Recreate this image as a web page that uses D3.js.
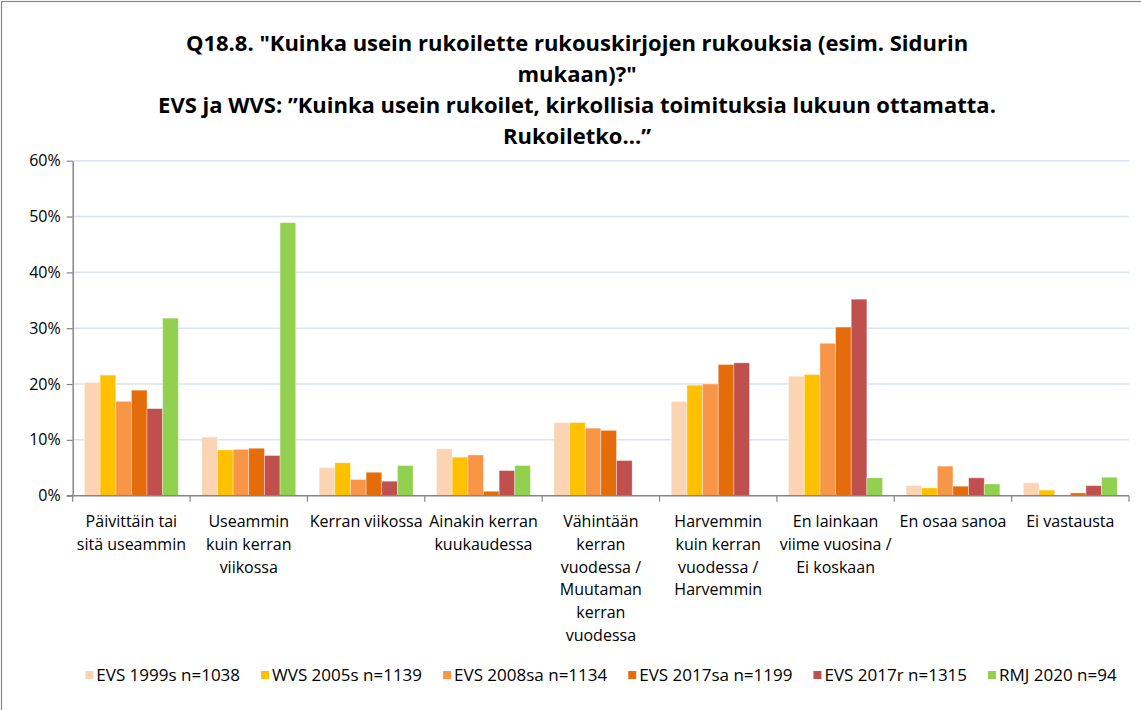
<!DOCTYPE html>
<html><head><meta charset="utf-8">
<script src="https://cdn.jsdelivr.net/npm/d3@7/dist/d3.min.js"></script>
<style>
body{margin:0;background:#fff;}
svg text{font-family:"Open Sans",sans-serif;fill:#000;}
</style></head>
<body><svg id="c" width="1141" height="710"></svg>
<script>
const titleLines = [
  'Q18.8. "Kuinka usein rukoilette rukouskirjojen rukouksia (esim. Sidurin',
  'mukaan)?"',
  'EVS ja WVS: \u201dKuinka usein rukoilet, kirkollisia toimituksia lukuun ottamatta.',
  'Rukoiletko...\u201d'
];
const categories = [
  "Päivittäin tai\nsitä useammin",
  "Useammin\nkuin kerran\nviikossa",
  "Kerran viikossa",
  "Ainakin kerran\nkuukaudessa",
  "Vähintään\nkerran\nvuodessa /\nMuutaman\nkerran\nvuodessa",
  "Harvemmin\nkuin kerran\nvuodessa /\nHarvemmin",
  "En lainkaan\nviime vuosina /\nEi koskaan",
  "En osaa sanoa",
  "Ei vastausta"
];
const seriesNames = ["EVS 1999s n=1038","WVS 2005s n=1139","EVS 2008sa n=1134","EVS 2017sa n=1199","EVS 2017r n=1315","RMJ 2020 n=94"];
const seriesColors = ["#FBD4B4","#FFC000","#F79646","#E46C0A","#C0504D","#92D050"];
const evs1999 = [20.3,10.5,5.0,8.4,13.1,16.9,21.4,1.8,2.3];
const wvs2005 = [21.6,8.2,5.9,6.9,13.1,19.8,21.7,1.4,1.0];
const evs2008 = [16.9,8.3,2.9,7.3,12.1,20.0,27.3,5.3,null];
const evs2017sa = [18.9,8.5,4.2,0.8,11.7,23.5,30.2,1.7,0.5];
const evs2017r = [15.6,7.2,2.6,4.5,6.3,23.8,35.2,3.2,1.8];
const rmj2020 = [31.8,48.9,5.4,5.4,null,null,3.2,2.1,3.3];
const yTicks = [0,10,20,30,40,50,60];

const seriesValues = [evs1999,wvs2005,evs2008,evs2017sa,evs2017r,rmj2020];
const svg = d3.select("#c");
const L = 72.7, R = 1129, T = 160.7, B = 495.7;

// outer frame
svg.append("rect").attr("x",1.5).attr("y",1.5).attr("width",1160).attr("height",730)
  .attr("fill","none").attr("stroke","#868686").attr("stroke-width",1.2);

// title
svg.append("g").selectAll("text").data(titleLines).join("text")
  .attr("x",577).attr("y",(d,i)=>51+i*31).attr("text-anchor","middle")
  .style("font-size","22px").style("font-weight","bold").text(d=>d);

const x0 = d3.scaleBand().domain(categories.map((d,i)=>i)).range([L,R]).paddingInner(0).paddingOuter(0);
const bw = x0.bandwidth();
const pad = bw*0.75/7.5;
const x1 = d3.scaleBand().domain(d3.range(seriesNames.length)).range([pad, bw-pad]).padding(0);
const y = d3.scaleLinear().domain([0,60]).range([B,T]);

// gridlines
svg.append("g").selectAll("line").data(yTicks.filter(t=>t>0)).join("line")
  .attr("x1",L).attr("x2",R).attr("y1",d=>y(d)).attr("y2",d=>y(d))
  .attr("stroke","#D9E3F1").attr("stroke-width",1.5);

// bars
const gBars = svg.append("g");
seriesValues.forEach((vals,s)=>{
  gBars.append("g").selectAll("rect").data(vals.map((v,i)=>({v,i}))).join("rect")
    .filter(d=>d.v!==null)
    .attr("x",d=>x0(d.i)+x1(s)).attr("width",x1.bandwidth())
    .attr("y",d=>y(d.v)).attr("height",d=>B-y(d.v))
    .attr("fill",seriesColors[s])
    .attr("stroke","rgba(255,255,255,0.45)").attr("stroke-width",0.8);
});

// y axis
const yAxis = d3.axisLeft(y).tickValues(yTicks).tickFormat(d=>d+"%").tickSizeInner(6).tickSizeOuter(0).tickPadding(6);
const gy = svg.append("g").attr("transform",`translate(${L},0)`).call(yAxis);
gy.select(".domain").attr("stroke","#868686").attr("stroke-width",1.5);
gy.selectAll(".tick line").attr("stroke","#868686").attr("stroke-width",1.2);
gy.selectAll("text").style("font-size","16px").attr("fill","#000");

// x axis line & ticks
svg.append("line").attr("x1",L-6).attr("x2",R).attr("y1",B).attr("y2",B).attr("stroke","#868686").attr("stroke-width",1.5);
svg.append("g").selectAll("line").data(d3.range(categories.length+1)).join("line")
  .attr("x1",i=>L+i*bw).attr("x2",i=>L+i*bw).attr("y1",B).attr("y2",B+6)
  .attr("stroke","#868686").attr("stroke-width",1.2);

// category labels
const gl = svg.append("g");
categories.forEach((c,i)=>{
  const t = gl.append("text").attr("text-anchor","middle").style("font-size","16px");
  c.split("\n").forEach((ln,j)=>{
    t.append("tspan").attr("x",x0(i)+bw/2).attr("y",527+j*22.8).text(ln);
  });
});

// legend
const lg = svg.append("g");
let widths=[];
const tmp = lg.append("g");
seriesNames.forEach(n=>{const t=tmp.append("text").style("font-size","17px").text(n); widths.push(t.node().getComputedTextLength()); });
tmp.remove();
const sw=8, gapSw=3, gapItem=21;
const total = d3.sum(widths)+seriesNames.length*(sw+gapSw)+(seriesNames.length-1)*gapItem;
let cx = 601 - total/2;
seriesNames.forEach((n,i)=>{
  lg.append("rect").attr("x",cx).attr("y",671).attr("width",sw).attr("height",sw).attr("fill",seriesColors[i]);
  lg.append("text").attr("x",cx+sw+gapSw).attr("y",681).style("font-size","17px").text(n);
  cx += sw+gapSw+widths[i]+gapItem;
});
</script></body></html>
